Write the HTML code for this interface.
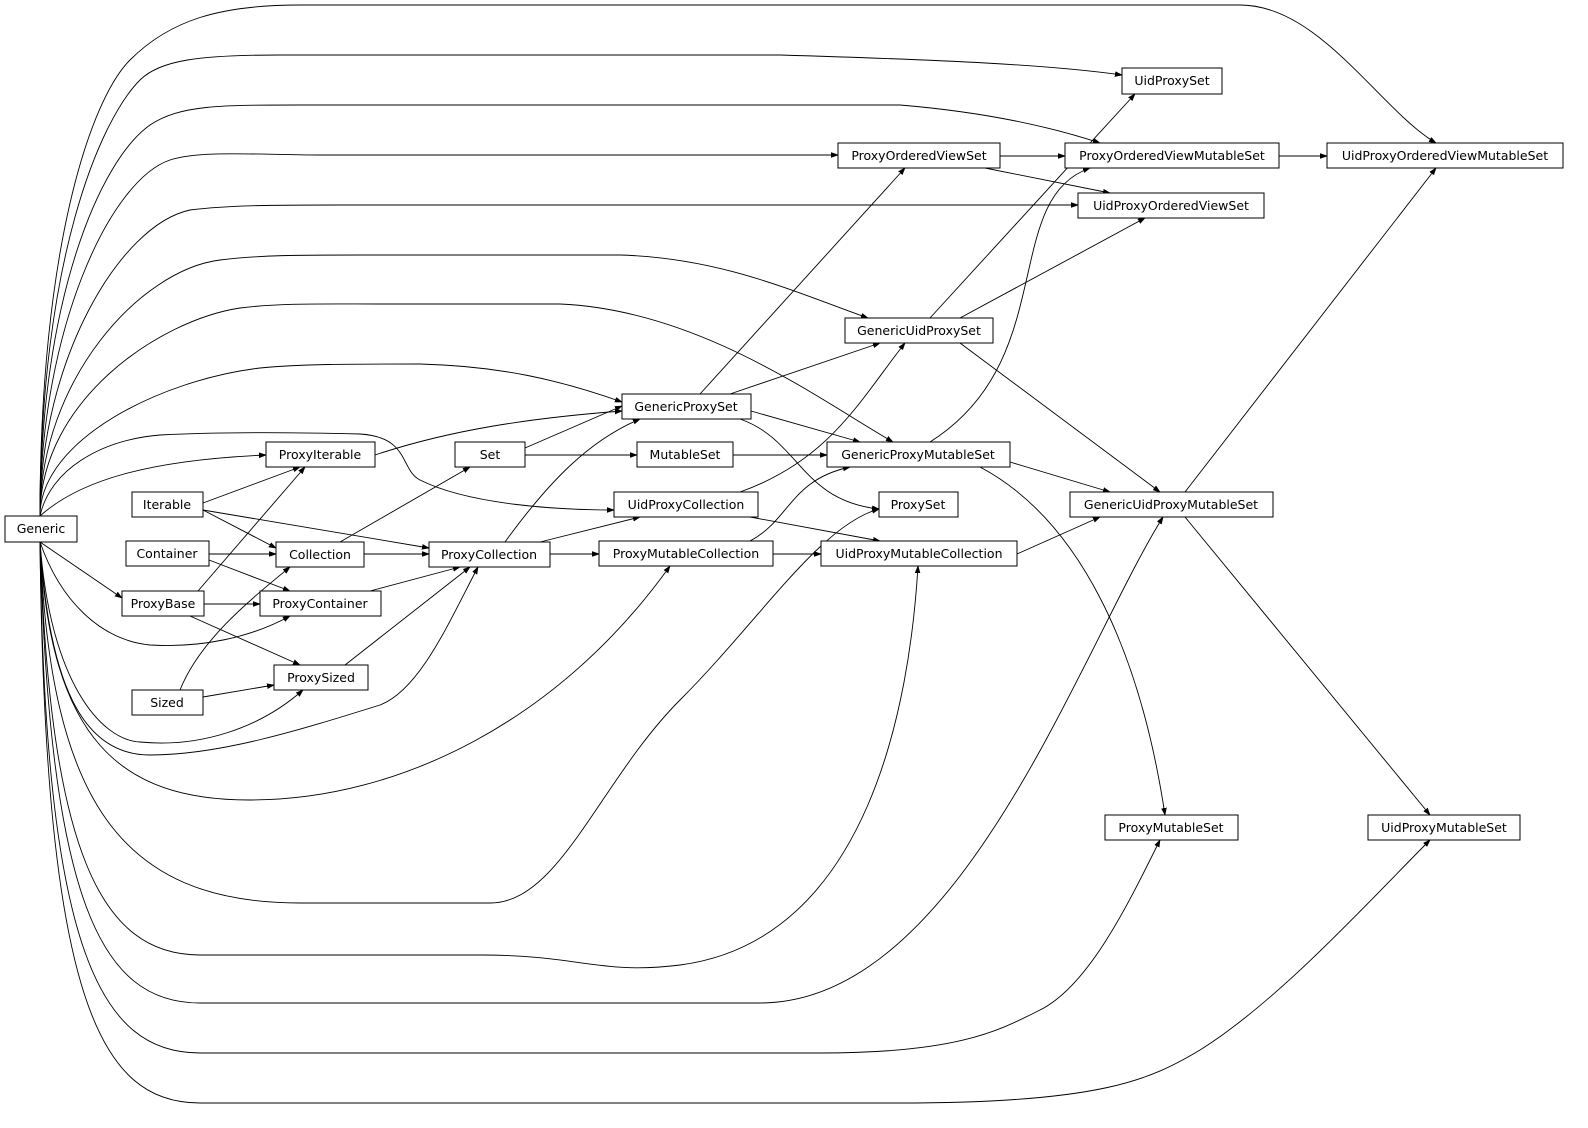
<!DOCTYPE html>
<html><head><meta charset="utf-8"><style>
html,body{margin:0;padding:0;background:#fff;}
svg{display:block;}
text{font-family:"DejaVu Sans","Liberation Sans",sans-serif;font-size:12.5px;fill:#000;}
rect{fill:#fff;stroke:#000;stroke-width:1;}
path{fill:none;stroke:#000;stroke-width:0.9;marker-end:url(#a);}
</style></head><body>
<svg width="1588" height="1128" viewBox="0 0 1588 1128" xmlns="http://www.w3.org/2000/svg">
<defs><marker id="a" viewBox="0 0 10 10" refX="10" refY="5" markerWidth="7" markerHeight="7" orient="auto" markerUnits="userSpaceOnUse"><path d="M0,1.5 L10,5 L0,8.5 z" style="fill:#000;stroke:#000;marker-end:none"/></marker></defs>

<!-- Generic edges -->
<path d="M40,516 C40,250 90,100 130,60 C170,20 220,5 300,5 L1240,5 C1320,5 1380,110 1436,143"/>
<path d="M40,516 C40,260 100,120 140,80 C160,60 200,55 280,55 L780,55 C950,60 1050,65 1122,75"/>
<path d="M40,516 C40,300 100,160 150,125 C180,105 220,105 300,105 L900,105 C960,110 1030,120 1100,143"/>
<path d="M40,516 C40,330 110,180 170,160 C200,150 260,155 320,155 L838,155"/>
<path d="M40,516 C40,360 120,225 190,210 C230,205 280,205 340,205 L1078,205"/>
<path d="M40,516 C40,380 140,270 220,260 C260,255 300,255 360,255 L620,255 C720,258 790,290 868,318"/>
<path d="M40,516 C40,400 160,320 240,308 C280,303 320,304 380,304 L560,304 C700,310 820,400 893,442"/>
<path d="M40,516 C40,440 160,380 260,368 C300,364 350,364 420,364 C500,366 560,380 622,402"/>
<path d="M40,516 C50,470 100,440 160,435 C220,432 280,432 360,434 C410,437 400,470 420,480 C470,505 560,510 614,510"/>
<path d="M40,516 C80,480 150,460 266,455"/>
<path d="M40,542 L122,598"/>
<path d="M40,542 C60,600 100,640 150,645 C200,648 250,638 290,616"/>
<path d="M40,542 C50,680 100,740 140,742 C200,748 260,728 303,690"/>
<path d="M40,542 C50,700 90,755 150,755 C220,755 300,730 380,705 C420,690 450,620 478,567"/>
<path d="M40,542 C50,740 120,800 250,800 C400,800 560,720 670,566"/>
<path d="M40,542 C50,800 120,903 300,903 L490,903 C560,903 600,780 680,700 C760,620 820,525 879,509"/>
<path d="M40,542 C50,850 100,955 200,955 L480,955 C580,955 600,975 680,965 C870,940 910,700 918,566"/>
<path d="M40,542 C50,900 100,1003 200,1003 L760,1003 C960,1003 1080,650 1163,517"/>
<path d="M40,542 C45,950 100,1053 200,1053 L820,1053 C960,1053 1000,1030 1040,1010 C1090,985 1130,900 1160,840"/>
<path d="M40,542 C45,1000 100,1103 200,1103 L900,1103 C1100,1103 1150,1080 1200,1050 C1280,1000 1370,900 1430,840"/>

<!-- other edges -->
<path d="M375,455 C450,430 530,418 622,411"/>
<path d="M203,503 L300,467"/>
<path d="M203,510 L276,548"/>
<path d="M203,510 L429,548"/>
<path d="M209,554 L276,554"/>
<path d="M209,560 L290,591"/>
<path d="M198,591 L305,467"/>
<path d="M204,604 L260,604"/>
<path d="M190,616 L300,665"/>
<path d="M203,697 L274,685"/>
<path d="M180,690 C200,640 250,600 290,567"/>
<path d="M340,542 L470,467"/>
<path d="M364,554 L429,554"/>
<path d="M370,591 L460,567"/>
<path d="M345,665 L470,567"/>
<path d="M525,448 L622,406"/>
<path d="M525,455 L637,455"/>
<path d="M733,455 L827,455"/>
<path d="M505,542 C550,480 590,440 640,419"/>
<path d="M540,542 L640,517"/>
<path d="M550,554 L599,554"/>
<path d="M750,541 C790,520 790,480 850,467"/>
<path d="M773,554 L821,554"/>
<path d="M740,492 C830,460 860,400 905,343"/>
<path d="M750,517 L880,541"/>
<path d="M700,394 L905,168"/>
<path d="M730,394 L880,343"/>
<path d="M751,411 L860,442"/>
<path d="M740,419 C800,440 800,500 879,509"/>
<path d="M930,442 C1060,360 1000,200 1090,168"/>
<path d="M1010,462 L1110,492"/>
<path d="M980,467 C1080,520 1140,650 1165,815"/>
<path d="M930,318 L1135,94"/>
<path d="M960,318 L1145,218"/>
<path d="M960,343 L1160,492"/>
<path d="M1000,156 L1065,156"/>
<path d="M985,168 L1110,193"/>
<path d="M1279,156 L1327,156"/>
<path d="M1017,554 L1100,517"/>
<path d="M1185,492 L1436,168"/>
<path d="M1185,517 L1430,815"/>

<!-- nodes -->
<g>
<rect x="5" y="516" width="72" height="26"/><text x="41" y="533" text-anchor="middle">Generic</text>
<rect x="1122" y="68" width="100" height="26"/><text x="1172" y="85" text-anchor="middle">UidProxySet</text>
<rect x="838" y="143" width="162" height="25"/><text x="919" y="160" text-anchor="middle">ProxyOrderedViewSet</text>
<rect x="1065" y="143" width="214" height="25"/><text x="1172" y="160" text-anchor="middle">ProxyOrderedViewMutableSet</text>
<rect x="1327" y="143" width="236" height="25"/><text x="1445" y="160" text-anchor="middle">UidProxyOrderedViewMutableSet</text>
<rect x="1078" y="193" width="186" height="25"/><text x="1171" y="210" text-anchor="middle">UidProxyOrderedViewSet</text>
<rect x="845" y="318" width="148" height="25"/><text x="919" y="335" text-anchor="middle">GenericUidProxySet</text>
<rect x="622" y="394" width="129" height="25"/><text x="686" y="411" text-anchor="middle">GenericProxySet</text>
<rect x="266" y="442" width="109" height="25"/><text x="320" y="459" text-anchor="middle">ProxyIterable</text>
<rect x="455" y="442" width="70" height="25"/><text x="490" y="459" text-anchor="middle">Set</text>
<rect x="637" y="442" width="96" height="25"/><text x="685" y="459" text-anchor="middle">MutableSet</text>
<rect x="827" y="442" width="183" height="25"/><text x="918" y="459" text-anchor="middle">GenericProxyMutableSet</text>
<rect x="132" y="492" width="71" height="25"/><text x="167" y="509" text-anchor="middle">Iterable</text>
<rect x="614" y="492" width="144" height="25"/><text x="686" y="509" text-anchor="middle">UidProxyCollection</text>
<rect x="879" y="492" width="79" height="25"/><text x="918" y="509" text-anchor="middle">ProxySet</text>
<rect x="1070" y="492" width="203" height="25"/><text x="1171" y="509" text-anchor="middle">GenericUidProxyMutableSet</text>
<rect x="126" y="541" width="83" height="25"/><text x="167" y="558" text-anchor="middle">Container</text>
<rect x="276" y="542" width="88" height="25"/><text x="320" y="559" text-anchor="middle">Collection</text>
<rect x="429" y="542" width="121" height="25"/><text x="489" y="559" text-anchor="middle">ProxyCollection</text>
<rect x="599" y="541" width="174" height="25"/><text x="686" y="558" text-anchor="middle">ProxyMutableCollection</text>
<rect x="821" y="541" width="196" height="25"/><text x="919" y="558" text-anchor="middle">UidProxyMutableCollection</text>
<rect x="122" y="591" width="82" height="25"/><text x="163" y="608" text-anchor="middle">ProxyBase</text>
<rect x="260" y="591" width="121" height="25"/><text x="320" y="608" text-anchor="middle">ProxyContainer</text>
<rect x="274" y="665" width="94" height="25"/><text x="321" y="682" text-anchor="middle">ProxySized</text>
<rect x="132" y="690" width="71" height="25"/><text x="167" y="707" text-anchor="middle">Sized</text>
<rect x="1105" y="815" width="133" height="25"/><text x="1171" y="832" text-anchor="middle">ProxyMutableSet</text>
<rect x="1368" y="815" width="152" height="25"/><text x="1444" y="832" text-anchor="middle">UidProxyMutableSet</text>
</g>
</svg>
</body></html>
